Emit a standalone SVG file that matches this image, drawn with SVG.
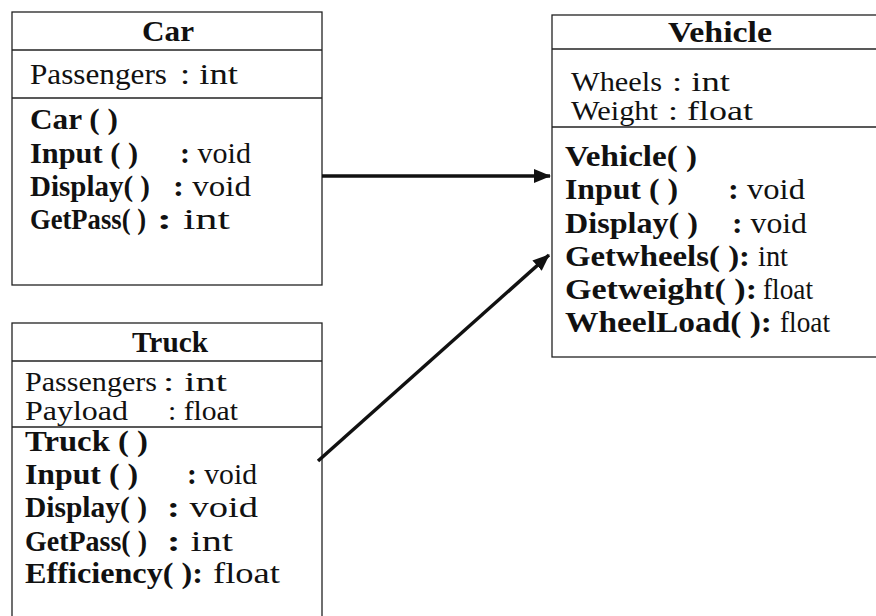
<svg xmlns="http://www.w3.org/2000/svg" width="876" height="616" viewBox="0 0 876 616">
<defs>
<style>
text{font-family:"Liberation Serif","Times New Roman",serif;font-size:29px;fill:#111}
.b{font-weight:bold}
.a{font-size:27px}
.t{font-weight:bold;text-anchor:middle}
.box{fill:#fff;stroke:#222;stroke-width:1.3}
.sep{stroke:#222;stroke-width:1.3}
.conn{stroke:#111;stroke-width:3.5;fill:none}
</style>
<marker id="ah" markerUnits="userSpaceOnUse" markerWidth="18" markerHeight="14" refX="16" refY="7" orient="auto">
<path d="M0,0 L17,7 L0,14 z" fill="#111"/>
</marker>
</defs>
<rect width="876" height="616" fill="#fff"/>
<g id="car">
<rect class="box" x="12" y="12" width="310" height="273"/>
<line class="sep" x1="12" y1="50" x2="322" y2="50"/>
<line class="sep" x1="12" y1="98" x2="322" y2="98"/>
<text class="t" x="168" y="41" textLength="52" lengthAdjust="spacingAndGlyphs">Car</text>
<text x="30" y="84" textLength="137" lengthAdjust="spacingAndGlyphs">Passengers</text>
<text x="180" y="84" textLength="58" lengthAdjust="spacingAndGlyphs">: int</text>
<text class="b" x="30" y="129" textLength="88" lengthAdjust="spacingAndGlyphs">Car ( )</text>
<text class="b" x="30" y="163" textLength="108" lengthAdjust="spacingAndGlyphs">Input ( )</text>
<text x="180" y="163" textLength="71" lengthAdjust="spacingAndGlyphs"><tspan class="b">:</tspan> void</text>
<text class="b" x="30" y="196" textLength="120" lengthAdjust="spacingAndGlyphs">Display( )</text>
<text x="173" y="196" textLength="78" lengthAdjust="spacingAndGlyphs"><tspan class="b">:</tspan> void</text>
<text class="b" x="30" y="229" textLength="116" lengthAdjust="spacingAndGlyphs">GetPass( )</text>
<text x="157" y="229" textLength="73" lengthAdjust="spacingAndGlyphs"><tspan class="b">:</tspan> int</text>
</g>
<g id="truck">
<rect class="box" x="12" y="323" width="310" height="310"/>
<line class="sep" x1="12" y1="361" x2="322" y2="361"/>
<line class="sep" x1="12" y1="427" x2="322" y2="427"/>
<text class="t" x="170" y="352" textLength="76" lengthAdjust="spacingAndGlyphs">Truck</text>
<text class="a" x="25" y="391" textLength="132" lengthAdjust="spacingAndGlyphs">Passengers</text>
<text class="a" x="163" y="391" textLength="64" lengthAdjust="spacingAndGlyphs">: int</text>
<text class="a" x="25" y="420" textLength="103" lengthAdjust="spacingAndGlyphs">Payload</text>
<text class="a" x="168" y="420" textLength="70" lengthAdjust="spacingAndGlyphs">: float</text>
<text class="b" x="25" y="451" textLength="123" lengthAdjust="spacingAndGlyphs">Truck ( )</text>
<text class="b" x="25" y="484" textLength="113" lengthAdjust="spacingAndGlyphs">Input ( )</text>
<text x="187" y="484" textLength="70" lengthAdjust="spacingAndGlyphs"><tspan class="b">:</tspan> void</text>
<text class="b" x="25" y="517" textLength="122" lengthAdjust="spacingAndGlyphs">Display( )</text>
<text x="167" y="517" textLength="91" lengthAdjust="spacingAndGlyphs"><tspan class="b">:</tspan> void</text>
<text class="b" x="25" y="551" textLength="122" lengthAdjust="spacingAndGlyphs">GetPass( )</text>
<text x="167" y="551" textLength="66" lengthAdjust="spacingAndGlyphs"><tspan class="b">:</tspan> int</text>
<text class="b" x="25" y="583" textLength="178" lengthAdjust="spacingAndGlyphs">Efficiency( ):</text>
<text x="213" y="583" textLength="67" lengthAdjust="spacingAndGlyphs">float</text>
</g>
<g id="vehicle">
<rect class="box" x="552" y="15" width="340" height="342"/>
<line class="sep" x1="552" y1="49" x2="876" y2="49"/>
<line class="sep" x1="552" y1="127" x2="876" y2="127"/>
<text class="t" x="720" y="42" textLength="104" lengthAdjust="spacingAndGlyphs">Vehicle</text>
<text class="a" x="571" y="91" textLength="91" lengthAdjust="spacingAndGlyphs">Wheels</text>
<text class="a" x="672" y="91" textLength="58" lengthAdjust="spacingAndGlyphs">: int</text>
<text class="a" x="571" y="120" textLength="87" lengthAdjust="spacingAndGlyphs">Weight</text>
<text class="a" x="668" y="120" textLength="85" lengthAdjust="spacingAndGlyphs">: float</text>
<text class="b" x="565" y="166" textLength="132" lengthAdjust="spacingAndGlyphs">Vehicle( )</text>
<text class="b" x="565" y="199" textLength="113" lengthAdjust="spacingAndGlyphs">Input ( )</text>
<text x="728" y="199" textLength="77" lengthAdjust="spacingAndGlyphs"><tspan class="b">:</tspan> void</text>
<text class="b" x="565" y="233" textLength="133" lengthAdjust="spacingAndGlyphs">Display( )</text>
<text x="732" y="233" textLength="75" lengthAdjust="spacingAndGlyphs"><tspan class="b">:</tspan> void</text>
<text class="b" x="565" y="266" textLength="185" lengthAdjust="spacingAndGlyphs">Getwheels( ):</text>
<text x="758" y="266" textLength="30" lengthAdjust="spacingAndGlyphs">int</text>
<text class="b" x="565" y="299" textLength="192" lengthAdjust="spacingAndGlyphs">Getweight( ):</text>
<text x="763" y="299" textLength="50" lengthAdjust="spacingAndGlyphs">float</text>
<text class="b" x="565" y="332" textLength="207" lengthAdjust="spacingAndGlyphs">WheelLoad( ):</text>
<text x="780" y="332" textLength="50" lengthAdjust="spacingAndGlyphs">float</text>
</g>
<g id="connectors">
<line class="conn" x1="322" y1="176" x2="550" y2="176" marker-end="url(#ah)"/>
<line class="conn" x1="318" y1="461" x2="549" y2="255" marker-end="url(#ah)"/>
</g>
</svg>
